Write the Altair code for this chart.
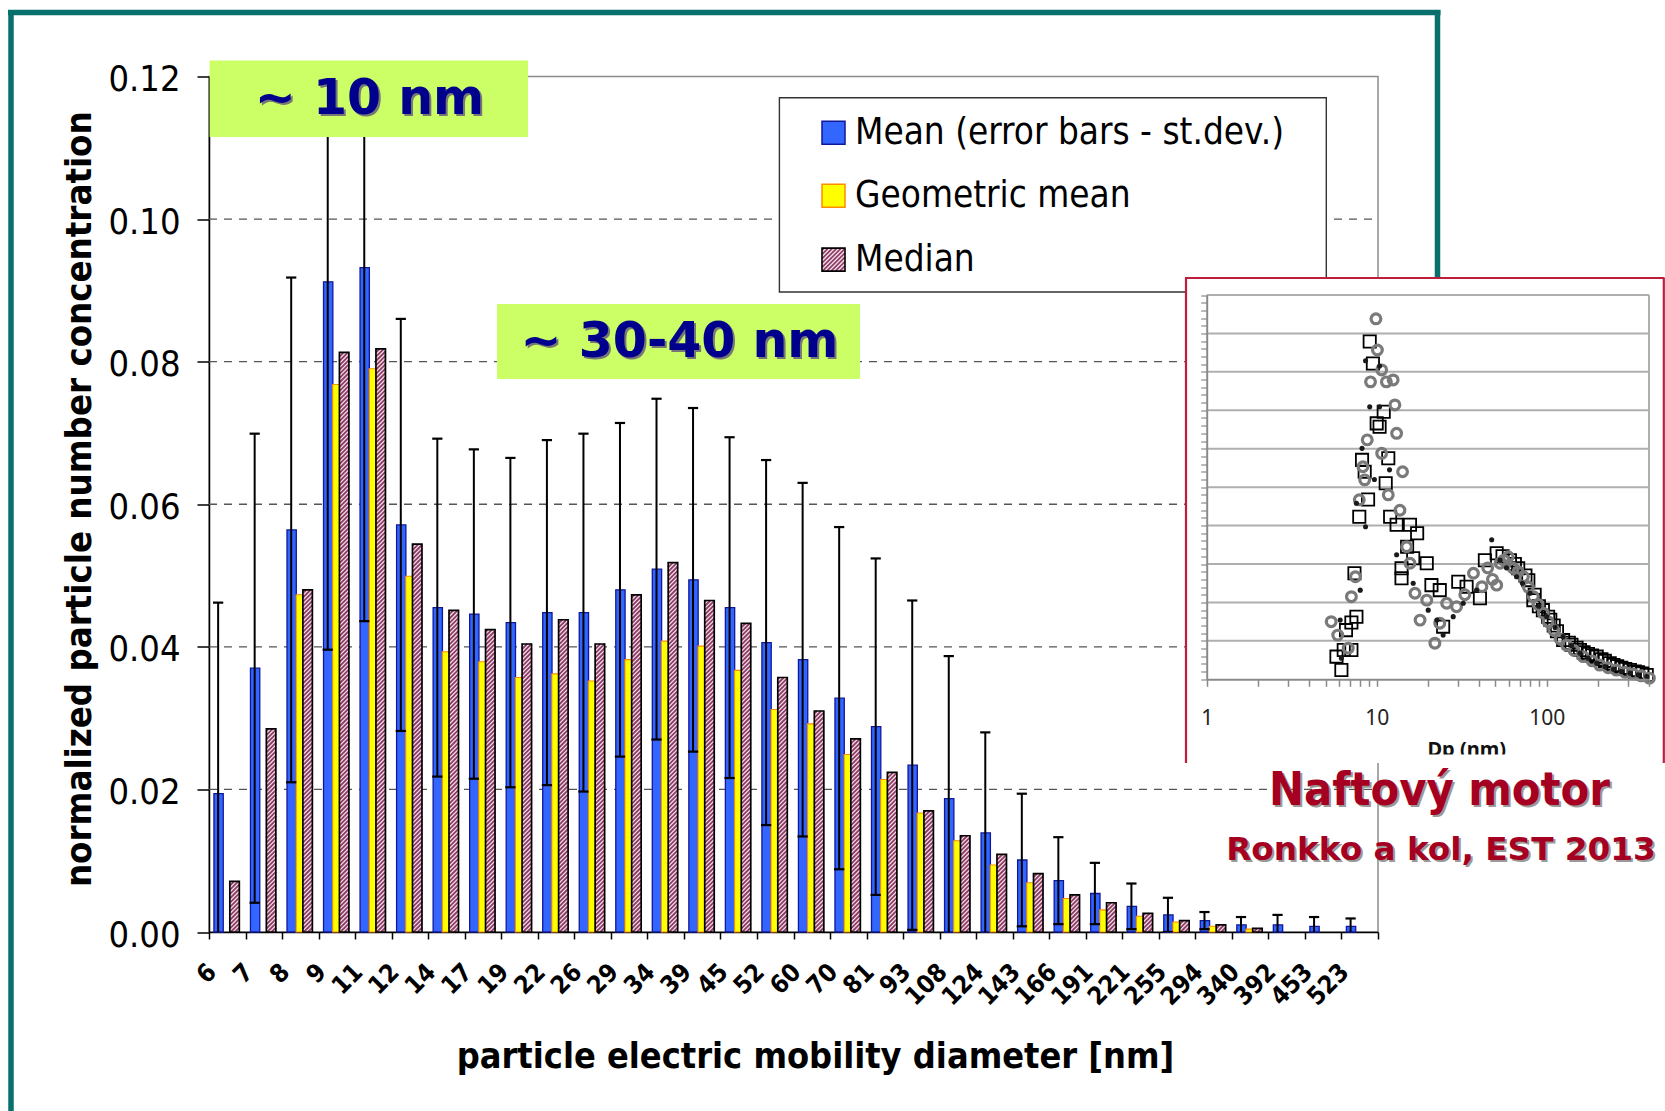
import altair as alt
import pandas as pd

# ---------------- data ----------------
sizes = [6, 7, 8, 9, 11, 12, 14, 17, 19, 22, 26, 29, 34, 39, 45, 52, 60, 70, 81, 93,
         108, 124, 143, 166, 191, 221, 255, 294, 340, 392, 453, 523]
mean = [0.0194, 0.0370, 0.0564, 0.0912, 0.0932, 0.0571, 0.0455, 0.0446, 0.0434, 0.0448,
        0.0448, 0.0480, 0.0509, 0.0494, 0.0455, 0.0406, 0.0382, 0.0328, 0.0288, 0.0234,
        0.0187, 0.0139, 0.0101, 0.0072, 0.0054, 0.0036, 0.0024, 0.0016, 0.0010, 0.0010,
        0.0008, 0.0008]
st_dev = [0.0268, 0.0329, 0.0354, 0.0516, 0.0496, 0.0289, 0.0237, 0.0231, 0.0231, 0.0242,
          0.0251, 0.0234, 0.0239, 0.0241, 0.0239, 0.0256, 0.0248, 0.0240, 0.0236, 0.0231,
          0.0200, 0.0141, 0.0093, 0.0061, 0.0043, 0.0032, 0.0024, 0.0012, 0.0011, 0.0014,
          0.0013, 0.0011]
geo_mean = [0, 0, 0.0473, 0.0768, 0.0790, 0.0499, 0.0393, 0.0379, 0.0357, 0.0362,
            0.0352, 0.0382, 0.0408, 0.0401, 0.0367, 0.0312, 0.0292, 0.0249, 0.0214, 0.0167,
            0.0128, 0.0094, 0.0069, 0.0047, 0.0031, 0.0022, 0.0014, 0.0008, 0.0004, 0,
            0, 0]
median = [0.0071, 0.0285, 0.0480, 0.0813, 0.0818, 0.0544, 0.0451, 0.0424, 0.0404, 0.0438,
          0.0404, 0.0473, 0.0518, 0.0465, 0.0433, 0.0357, 0.0310, 0.0271, 0.0224, 0.0170,
          0.0135, 0.0109, 0.0082, 0.0052, 0.0041, 0.0026, 0.0016, 0.0010, 0.0005, 0,
          0, 0]
y_ticks = [0.0, 0.02, 0.04, 0.06, 0.08, 0.10, 0.12]
grid_levels = [0.02, 0.04, 0.06, 0.08, 0.10]
legend_labels = ["Mean (error bars - st.dev.)", "Geometric mean", "Median"]

# inset (Ronkko et al.) - three measurement series, Dp in nm, y in grid units
sq_dp = [5.8, 6.2, 6.4, 6.6, 7.1, 7.1, 7.6, 7.4, 7.9, 8.2, 8.5, 8.9, 9.1, 9.5, 10.0, 10.4,
         11.0, 11.3, 11.7, 12.0, 13.1, 14.0, 14.0, 15.1, 15.7, 16.4, 17.3, 19.7, 21.0, 23.5,
         24.6, 30.2, 33.8, 40.5, 43.3, 50.8, 55, 60.8, 65, 68.0, 75, 78.0, 83.5, 85, 90, 95,
         102, 105, 110, 115, 125, 135, 140, 150, 157, 165, 175, 185, 197, 210, 220, 235,
         247, 260, 275, 290, 309, 330, 345, 365, 388]
sq_y = [0.59, 0.24, 0.76, 1.28, 0.76, 1.48, 1.63, 2.76, 4.23, 5.71, 5.40, 4.68, 8.79, 8.22,
        6.66, 6.57, 6.96, 5.10, 5.75, 4.23, 4.02, 2.89, 2.63, 3.45, 4.02, 3.15, 3.80, 3.02,
        2.45, 2.32, 1.37, 2.54, 2.41, 2.11, 3.10, 3.28, 3.20, 3.10, 3.00, 2.89, 2.70, 2.58,
        2.06, 2.20, 1.90, 1.80, 1.63, 1.55, 1.40, 1.25, 1.02, 0.95, 0.90, 0.82, 0.76, 0.70,
        0.66, 0.62, 0.59, 0.52, 0.48, 0.42, 0.37, 0.34, 0.30, 0.27, 0.24, 0.20, 0.18, 0.15,
        0.11]
ci_dp = [5.4, 5.9, 6.8, 7.1, 7.5, 7.9, 8.3, 8.5, 8.8, 9.2, 9.9, 10.1, 10.7, 10.7, 11.4,
         11.7, 12.5, 12.8, 13.1, 13.7, 14.2, 15.0, 15.7, 16.8, 18.0, 19.7, 22.0, 23.5, 25.8,
         29.5, 33, 37.1, 41.6, 45, 48, 50.8, 53.2, 56, 59.4, 63.7, 68, 73.0, 78, 83.5, 89,
         95.6, 102, 110, 120, 131, 145, 164, 185, 205, 230, 257, 290, 322, 360, 402]
ci_y = [1.50, 1.15, 0.81, 2.15, 2.67, 4.67, 5.53, 5.19, 6.23, 7.74, 9.38, 8.57, 8.05, 5.88,
        7.74, 4.80, 7.79, 7.14, 6.40, 4.40, 5.40, 3.45, 3.02, 2.24, 1.54, 2.06, 0.94, 1.46,
        1.98, 1.89, 2.20, 2.76, 2.41, 2.90, 2.60, 2.45, 3.02, 3.10, 3.19, 2.89, 2.80, 2.67,
        2.40, 2.15, 1.95, 1.72, 1.50, 1.28, 1.05, 0.89, 0.75, 0.59, 0.48, 0.37, 0.30, 0.24,
        0.18, 0.14, 0.09, 0.03]
dt_dp = [6.1, 6.2, 7.6, 8.0, 8.2, 8.6, 8.6, 9.1, 9.7, 10.4, 10.4, 11.9, 13.1, 16.4, 20.1,
         22.6, 24.6, 28.2, 32.3, 38.7, 47.5, 53.2, 58, 66.5, 72, 79.8, 90, 100, 112, 125,
         140, 157, 175, 197, 220, 247, 275, 309, 345, 388]
dt_y = [1.54, 0.55, 4.58, 2.32, 6.01, 8.29, 3.97, 7.09, 5.20, 7.09, 8.15, 5.45, 3.24, 2.50,
        1.80, 1.54, 1.15, 1.63, 1.98, 2.32, 3.63, 3.10, 2.90, 2.67, 2.50, 2.24, 1.90, 1.63,
        1.35, 1.11, 0.88, 0.68, 0.55, 0.42, 0.33, 0.26, 0.20, 0.16, 0.12, 0.07]
inset_grid = [1, 2, 3, 4, 5, 6, 7, 8, 9, 10]
inset_x_ticks = [1, 2, 3, 4, 5, 6, 7, 8, 9, 10, 20, 30, 40, 50, 60, 70, 80, 90, 100, 200, 300, 400]
inset_y_ticks = [round(v * 0.2, 1) for v in range(51)]

# ---------------- layout constants ----------------
W, H = 1169, 855.5            # main plot area
OX, OY = 209, 76.5            # plot origin on the page
NCAT = len(sizes)
XPX = W / NCAT
YPX = H / 0.12
COND = "DejaVu Sans Condensed, DejaVu Sans"
BOLD = "DejaVu Sans"

df = pd.DataFrame({"i": list(range(NCAT)), "size": [str(s) for s in sizes], "mean": mean,
                   "sd": st_dev, "geo": geo_mean, "median": median})
one = pd.DataFrame({"a": [0]})


def xs():
    return alt.Scale(domain=[0, NCAT], nice=False, zero=False)


def ys():
    return alt.Scale(domain=[0, 0.12], nice=False, zero=False)


x_axis = alt.Axis(values=list(range(NCAT + 1)), labels=False, title=None, tickSize=7,
                  tickColor="black", tickWidth=1.5, domainColor="black", domainWidth=1.5,
                  grid=False, orient="bottom")
y_axis = alt.Axis(values=y_ticks, format=".2f", title=None, tickSize=12, tickColor="black",
                  tickWidth=1.5, domainColor="black", domainWidth=1.5, grid=False,
                  labelFont=COND, labelFontSize=36, labelColor="black", labelPadding=17,
                  labelOffset=3, orient="left")

base = alt.Chart(df).transform_calculate(z="0")

grid = alt.Chart(pd.DataFrame({"g": grid_levels})).transform_calculate(
    xa="0", xb=str(NCAT)
).mark_rule(color="#555555", strokeWidth=1.4, strokeDash=[8, 7]).encode(
    x=alt.X("xa:Q", scale=xs(), axis=None), x2="xb:Q",
    y=alt.Y("g:Q", scale=ys(), axis=None))

BX1, BX2 = 0.135, 0.39
GX1, GX2 = 0.385, 0.645
MX1, MX2 = 0.57, 0.83

bars_mean = base.transform_filter("datum.mean > 0").transform_calculate(
    xa=f"datum.i + {BX1}", xb=f"datum.i + {BX2}"
).mark_bar(fill="#3366FF", stroke="#10189A", strokeWidth=1.3).encode(
    x=alt.X("xa:Q", scale=xs(), axis=x_axis), x2="xb:Q",
    y=alt.Y("mean:Q", scale=ys(), axis=y_axis), y2="z:Q")

bars_geo = base.transform_filter("datum.geo > 0").transform_calculate(
    xa=f"datum.i + {GX1}", xb=f"datum.i + {GX2}"
).mark_bar(fill="#FFFF00", stroke="#FF8C00", strokeWidth=1.1).encode(
    x=alt.X("xa:Q", scale=xs(), axis=None), x2="xb:Q",
    y=alt.Y("geo:Q", scale=ys(), axis=None), y2="z:Q")

med_base = base.transform_filter("datum.median > 0").transform_calculate(
    xa=f"datum.i + {MX1}", xb=f"datum.i + {MX2}")
bars_med = med_base.mark_bar(fill="#F3E2EA", strokeWidth=0).encode(
    x=alt.X("xa:Q", scale=xs(), axis=None), x2="xb:Q",
    y=alt.Y("median:Q", scale=ys(), axis=None), y2="z:Q")

MW = MX2 - MX1
DY = MW * XPX / YPX
STEP = 4.3 / YPX
hatch = base.transform_filter("datum.median > 0").transform_calculate(
    ks=f"sequence({-DY}, datum.median, {STEP})"
).transform_flatten(["ks"]).transform_calculate(
    ya="max(datum.ks, 0)", yb=f"min(datum.ks + {DY}, datum.median)"
).transform_calculate(
    xa=f"datum.i + {MX1} + (datum.ya - datum.ks) / {DY} * {MW}",
    xb=f"datum.i + {MX1} + (datum.yb - datum.ks) / {DY} * {MW}"
).mark_rule(stroke="#8E3C66", strokeWidth=1.8).encode(
    x=alt.X("xa:Q", scale=xs(), axis=None), x2="xb:Q",
    y=alt.Y("ya:Q", scale=ys(), axis=None), y2="yb:Q")

med_outline = med_base.mark_bar(fillOpacity=0, stroke="black", strokeWidth=1.7).encode(
    x=alt.X("xa:Q", scale=xs(), axis=None), x2="xb:Q",
    y=alt.Y("median:Q", scale=ys(), axis=None), y2="z:Q")

err = base.transform_calculate(lo="datum.mean - datum.sd", hi="datum.mean + datum.sd",
                               xe="datum.i + 0.25", xc1="datum.i + 0.11",
                               xc2="datum.i + 0.39")
err_line = err.mark_rule(color="black", strokeWidth=2, clip=True).encode(
    x=alt.X("xe:Q", scale=xs(), axis=None), y=alt.Y("lo:Q", scale=ys(), axis=None), y2="hi:Q")
cap_hi = err.mark_rule(color="black", strokeWidth=2.2, clip=True).encode(
    x=alt.X("xc1:Q", scale=xs(), axis=None), x2="xc2:Q", y=alt.Y("hi:Q", scale=ys(), axis=None))
cap_lo = err.transform_filter("datum.lo >= 0").mark_rule(color="black", strokeWidth=2.2,
                                                          clip=True).encode(
    x=alt.X("xc1:Q", scale=xs(), axis=None), x2="xc2:Q", y=alt.Y("lo:Q", scale=ys(), axis=None))

xlabels = base.transform_calculate(xl=f"datum.i + 0.5 - {15 / XPX}").mark_text(
    angle=315, align="right", baseline="middle", font=COND, fontWeight="bold",
    fontSize=25, color="black").encode(
    x=alt.X("xl:Q", scale=xs(), axis=None), y=alt.value(968 - OY), text="size:N")

main = [grid, bars_mean, bars_geo, bars_med, hatch, med_outline,
        err_line, cap_hi, cap_lo, xlabels]


# ---------------- helpers for page-positioned decorations ----------------
def px_rule(x1, y1, x2, y2, color, width):
    return alt.Chart(one).mark_rule(color=color, strokeWidth=width).encode(
        x=alt.value(x1 - OX), y=alt.value(y1 - OY), x2=alt.value(x2 - OX), y2=alt.value(y2 - OY))


def px_rect(x1, y1, x2, y2, fill, stroke=None, sw=0):
    kw = dict(fill=fill, strokeWidth=sw)
    if stroke:
        kw["stroke"] = stroke
    return alt.Chart(one).mark_rect(**kw).encode(
        x=alt.value(x1 - OX), y=alt.value(y1 - OY), x2=alt.value(x2 - OX), y2=alt.value(y2 - OY))


def px_text(txt, x, y, size, color, font, weight="normal", align="center", angle=0,
            baseline="middle"):
    kw = dict(text=txt, fontSize=size, color=color, font=font, fontWeight=weight,
              align=align, baseline=baseline)
    if angle:
        kw["angle"] = angle
    return alt.Chart(one).mark_text(**kw).encode(x=alt.value(x - OX), y=alt.value(y - OY))


TEAL = "#07706D"
teal = [px_rule(8, 12.5, 1440.5, 12.5, TEAL, 5.5),
        px_rule(11, 10, 11, 1111, TEAL, 5.5),
        px_rule(1437.5, 10, 1437.5, 280, TEAL, 5.5)]

# axis titles
titles = [
    px_text("normalized particle number concentration", 80, 470 * 1111 / 1046, 36.2, "black",
            COND, "bold", angle=270),
    px_text("particle electric mobility diameter [nm]", 815.5, 1057, 35.8, "black", COND,
            "bold"),
]

# legend
LX1, LY1, LX2, LY2 = 779.4, 97.7, 1326.3, 292
rows_y = [132.7, 195.8, 259.6]
SW0, SW1 = 822, 845
legend = [px_rect(LX1, LY1, LX2, LY2, "white", "#333333", 1.4),
          px_rect(SW0, rows_y[0] - 11.5, SW1, rows_y[0] + 11.5, "#3366FF", "#10189A", 1.5),
          px_rect(SW0, rows_y[1] - 11.5, SW1, rows_y[1] + 11.5, "#FFFF00", "#FF8C00", 1.5),
          px_rect(SW0, rows_y[2] - 11.5, SW1, rows_y[2] + 11.5, "#F3E2EA")]
S = SW1 - SW0
x0 = SW0 - OX
yb0 = rows_y[2] + 11.5 - OY
leg_hatch = alt.Chart(one).transform_calculate(
    k=f"sequence({-S + 2}, {S}, 4.3)"
).transform_flatten(["k"]).transform_calculate(
    va="max(0, -datum.k)", vb=f"min({S}, {S} - datum.k)"
).transform_calculate(
    xa=f"{x0} + datum.va + datum.k", xb=f"{x0} + datum.vb + datum.k",
    ya=f"{yb0} - datum.va", yb=f"{yb0} - datum.vb"
).mark_rule(stroke="#8E3C66", strokeWidth=1.7).encode(
    x=alt.X("xa:Q", scale=None, axis=None), x2="xb:Q",
    y=alt.Y("ya:Q", scale=None, axis=None), y2="yb:Q")
legend.append(leg_hatch)
legend.append(alt.Chart(one).mark_rect(fillOpacity=0, stroke="black", strokeWidth=1.6).encode(
    x=alt.value(SW0 - OX), x2=alt.value(SW1 - OX), y=alt.value(rows_y[2] - 11.5 - OY),
    y2=alt.value(rows_y[2] + 11.5 - OY)))
leg_df = pd.DataFrame({"label": legend_labels, "row": [0, 1, 2]})
leg_text = alt.Chart(leg_df).transform_calculate(
    ty=f"{rows_y[0] - OY} + datum.row * {(rows_y[2] - rows_y[0]) / 2}"
).mark_text(align="left", baseline="middle", font=COND, fontSize=36.6, color="black").encode(
    x=alt.value(855 - OX), y=alt.Y("ty:Q", scale=None, axis=None), text="label:N")
legend.append(leg_text)

# green annotation boxes
GREEN = "#CCFF66"
NAVY = "#00008C"
notes = [px_rect(209.6, 60.5, 528, 137, GREEN),
         px_rect(497, 304, 860, 379, GREEN),
         px_text("~ 10 nm", 371.5, 101, 49, "#777777", BOLD, "bold"),
         px_text("~ 10 nm", 369.5, 99, 49, NAVY, BOLD, "bold"),
         px_text("~ 30-40 nm", 681.5, 344, 49, "#777777", BOLD, "bold"),
         px_text("~ 30-40 nm", 679.5, 342, 49, NAVY, BOLD, "bold")]

# ---------------- inset ----------------
IX1, IX2 = 1206.7, 1649.0
IY1, IY2 = 295.0, 679.3


def xi():
    return alt.Scale(type="log", domain=[1, 400], range=[IX1 - OX, IX2 - OX], nice=False)


def yi():
    return alt.Scale(domain=[0, 10], range=[IY2 - OY, IY1 - OY], nice=False, zero=False)


GRAYAX = "#8A8A8A"
inset_x_axis = alt.Axis(orient="bottom", offset=(IY2 - OY) - H, values=inset_x_ticks,
                        labelExpr="(datum.value == 1 || datum.value == 10 || datum.value == 100) ? '' + datum.value : ''",
                        title=None, tickSize=7, tickColor=GRAYAX, tickWidth=1.5,
                        domainColor=GRAYAX, domainWidth=2, labelFont="Noto Sans",
                        labelFontSize=21, labelColor="#222222", labelPadding=21, grid=False,
                        zindex=1, labelFlush=False, labelOverlap=False)
inset_y_axis = alt.Axis(orient="left", offset=-(IX1 - OX), values=inset_y_ticks, labels=False,
                        title=None, tickSize=6, tickColor=GRAYAX, tickWidth=1.2,
                        domainColor=GRAYAX, domainWidth=2, grid=False, zindex=1)

inset_bg = px_rect(1185, 278, 1664, 763, "white")
inset_grid_l = alt.Chart(pd.DataFrame({"g": inset_grid})).transform_calculate(
    xa="1", xb="400").mark_rule(color="#AFAFAF", strokeWidth=2).encode(
    x=alt.X("xa:Q", scale=xi(), axis=None), x2="xb:Q", y=alt.Y("g:Q", scale=yi(), axis=None))
inset_right = alt.Chart(one).transform_calculate(xa="400", ya="0", yb="10").mark_rule(
    color="#AFAFAF", strokeWidth=2).encode(
    x=alt.X("xa:Q", scale=xi(), axis=None), y=alt.Y("ya:Q", scale=yi(), axis=None), y2="yb:Q")
sq = alt.Chart(pd.DataFrame({"dp": sq_dp, "v": sq_y})).mark_point(
    shape="square", filled=False, stroke="black", strokeWidth=1.8, size=150, opacity=1).encode(
    x=alt.X("dp:Q", scale=xi(), axis=inset_x_axis), y=alt.Y("v:Q", scale=yi(), axis=inset_y_axis))
ci = alt.Chart(pd.DataFrame({"dp": ci_dp, "v": ci_y})).mark_point(
    shape="circle", filled=False, stroke="#7A7A7A", strokeWidth=3.2, size=95, opacity=1).encode(
    x=alt.X("dp:Q", scale=xi(), axis=None), y=alt.Y("v:Q", scale=yi(), axis=None))
dt = alt.Chart(pd.DataFrame({"dp": dt_dp, "v": dt_y})).mark_circle(
    color="#1A1A1A", size=26, opacity=1).encode(
    x=alt.X("dp:Q", scale=xi(), axis=None), y=alt.Y("v:Q", scale=yi(), axis=None))
inset = [inset_bg, inset_grid_l, inset_right, sq, ci, dt]

RED = "#BE1E3C"
inset_extra = [
    px_text("Dp (nm)", 1466.7, 756, 20, "#111111", "Noto Sans", "bold", baseline="alphabetic"),
    px_rect(1187, 754.5, 1662, 763, "white"),
    px_rule(1185, 278, 1664.5, 278, RED, 2.2),
    px_rule(1186, 278, 1186, 763, RED, 2.2),
    px_rule(1663.8, 278, 1663.8, 763, RED, 2.2),
]

source = [
    px_text("Naftový motor", 1441.5, 793, 46.5, "#9A9A9A", COND, "bold"),
    px_text("Naftový motor", 1439.5, 791, 46.5, "#A50021", COND, "bold"),
    px_text("Ronkko a kol, EST 2013", 1443, 852, 32.7, "#9A9A9A", BOLD, "bold"),
    px_text("Ronkko a kol, EST 2013", 1441, 850, 32.7, "#A50021", BOLD, "bold"),
]

chart = alt.layer(
    *teal, *main, *titles, *legend, *notes, *inset, *inset_extra, *source
).resolve_scale(x="independent", y="independent").properties(
    width=W, height=H,
    padding={"left": OX, "top": OY, "right": 1665 - OX - W, "bottom": 1111 - OY - H},
    autosize=alt.AutoSizeParams(type="none"),
    background="white",
).configure_view(stroke="#8C8C8C", strokeWidth=1.5)

chart.save("out.html", embed_options={"renderer": "svg", "actions": False})
